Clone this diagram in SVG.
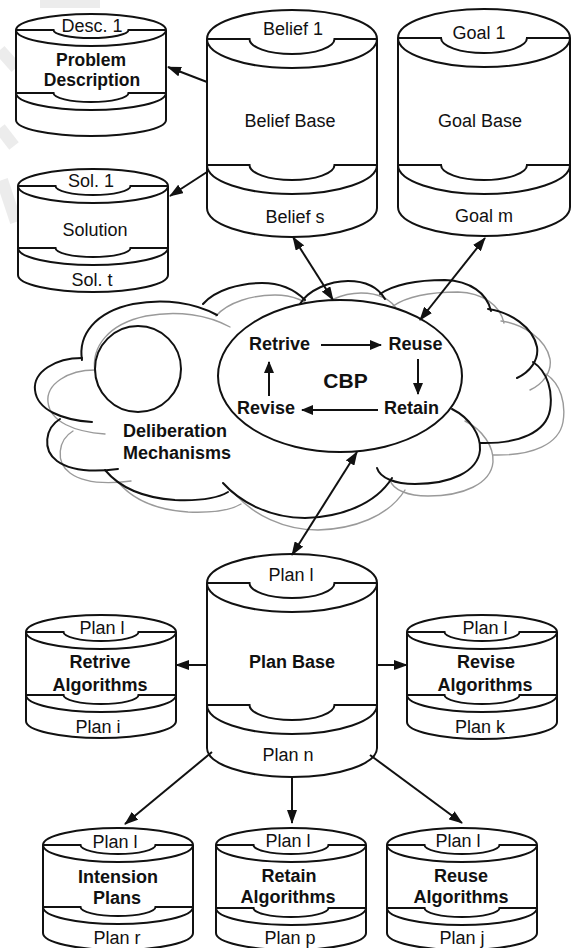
<svg xmlns="http://www.w3.org/2000/svg" width="573" height="948" viewBox="0 0 573 948">
  <defs>
    <style>
      .o { fill: none; stroke: #111; stroke-width: 2; }
      .w { fill: #fff; stroke: #111; stroke-width: 2; }
      .cl { fill: none; stroke: #111; stroke-width: 2; stroke-linecap: round; }
      .cg { fill: none; stroke: #9a9a9a; stroke-width: 1.4; stroke-linecap: round; }
      .ar { fill: none; stroke: #111; stroke-width: 2; }
      .wm { fill: none; stroke: #ececec; stroke-width: 12; stroke-linecap: butt; }
      text { font-family: "Liberation Sans", Arial, Helvetica, sans-serif; font-size: 18px; fill: #111; text-anchor: middle; }
      .b { font-weight: bold; }
    </style>
    <marker id="ah" viewBox="0 0 14 10" refX="13" refY="5" markerWidth="14" markerHeight="10" markerUnits="userSpaceOnUse" orient="auto-start-reverse">
      <path d="M0,0 L14,5 L0,10 Z" fill="#111"/>
    </marker>
    <marker id="ahs" viewBox="0 0 12 10" refX="11" refY="5" markerWidth="12" markerHeight="10" markerUnits="userSpaceOnUse" orient="auto-start-reverse">
      <path d="M0,0 L12,5 L0,10 Z" fill="#111"/>
    </marker>
    <!-- outline lobes of the deliberation cloud -->
    <g id="lobes">
      <path d="M82,360 C78,335 95,312 133,304 C165,298 195,303 217,315"/>
      <path d="M203,304 C215,290 240,283 262,283 C280,283 295,290 305,300"/>
      <path d="M300,304 C308,290 330,281 348,281 C365,281 378,287 385,299"/>
      <path d="M380,294 C395,284 420,280 445,280 C470,281 487,293 491,311"/>
      <path d="M488,309 C510,312 533,327 537,347 C539,360 530,372 517,378"/>
      <path d="M533,362 C548,372 553,392 550,410 C546,432 520,444 480,443"/>
      <path d="M452,409 C470,418 481,435 480,450 C478,472 450,484 415,484 C395,484 380,478 377,468"/>
      <path d="M392,478 C375,505 340,517 305,518 C270,518 240,502 223,483"/>
      <path d="M105,470 C120,488 145,498 175,500 C200,501 218,498 228,492"/>
      <path d="M60,419 C45,428 42,450 57,461 C72,472 95,472 118,469"/>
      <path d="M82,358 C55,358 33,372 35,390 C37,410 62,420 92,422"/>
    </g>
  </defs>

  <rect width="573" height="948" fill="#fff"/>

  <!-- faint background bands in the upper left -->
  <g id="bands">
    <path class="wm" d="M40,2 L100,2"/>
    <path class="wm" d="M0,50 L16,68"/>
    <path class="wm" d="M0,128 L14,146"/>
    <path class="wm" d="M2,180 L16,222"/>
    <path class="wm" d="M22,238 L44,262"/>
  </g>

  <!-- Problem Description -->
  <g id="problem-description">
    <path class="w" d="M16,30 V120 A75,16 0 0 0 166,120 V30"/>
    <ellipse class="w" cx="91" cy="30" rx="75" ry="16"/>
    <path class="o" d="M16,30 H53.5 A37.5,8 0 0 0 128.5,30 H166"/>
    <path class="o" d="M16,93 H53.5 A37.5,9 0 0 0 128.5,93 H166 M16,93 A75,17 0 0 0 166,93"/>
    <text x="92" y="32">Desc. 1</text>
    <text class="b" x="91" y="66" style="font-size:17.5px">Problem</text>
    <text class="b" x="92" y="86" style="font-size:17.5px">Description</text>
  </g>

  <!-- Solution -->
  <g id="solution">
    <path class="w" d="M18,186 V275 A75,17 0 0 0 168,275 V186"/>
    <ellipse class="w" cx="93" cy="186" rx="75" ry="17"/>
    <path class="o" d="M18,186 H55.5 A37.5,9 0 0 0 130.5,186 H168"/>
    <path class="o" d="M18,248 H55.5 A37.5,9 0 0 0 130.5,248 H168 M18,248 A75,17 0 0 0 168,248"/>
    <text x="91" y="187">Sol. 1</text>
    <text x="95" y="236">Solution</text>
    <text x="92" y="286">Sol. t</text>
  </g>

  <!-- Belief Base -->
  <g id="belief-base">
    <path class="w" d="M207,39 V208 A85,29 0 0 0 377,208 V39"/>
    <ellipse class="w" cx="292" cy="39" rx="85" ry="29"/>
    <path class="o" d="M207,39 H249.5 A42.5,15 0 0 0 334.5,39 H377"/>
    <path class="o" d="M207,165 H249.5 A42.5,15 0 0 0 334.5,165 H377 M207,165 A85,29 0 0 0 377,165"/>
    <text x="293" y="35">Belief 1</text>
    <text x="290" y="127">Belief Base</text>
    <text x="295" y="223">Belief s</text>
  </g>

  <!-- Goal Base -->
  <g id="goal-base">
    <path class="w" d="M398,38 V207 A86,29 0 0 0 570,207 V38"/>
    <ellipse class="w" cx="484" cy="38" rx="86" ry="29"/>
    <path class="o" d="M398,38 H441 A43,15 0 0 0 527,38 H570"/>
    <path class="o" d="M398,165 H441 A43,15 0 0 0 527,165 H570 M398,165 A86,29 0 0 0 570,165"/>
    <text x="479" y="39">Goal 1</text>
    <text x="480" y="127">Goal Base</text>
    <text x="484" y="222">Goal m</text>
  </g>

  <!-- Deliberation cloud with CBP cycle -->
  <g id="deliberation">
    <use href="#lobes" class="cg" transform="translate(13,12)"/>
    <use href="#lobes" class="cl"/>
    <circle class="w" cx="138" cy="369" r="43"/>
    <text class="b" x="175" y="437">Deliberation</text>
    <text class="b" x="177" y="459">Mechanisms</text>
  </g>

  <g id="cbp">
    <ellipse class="w" cx="340" cy="376" rx="122" ry="76"/>
    <text class="b" x="345.5" y="388" style="font-size:21px">CBP</text>
    <text class="b" x="279.5" y="350">Retrive</text>
    <text class="b" x="415.5" y="350">Reuse</text>
    <text class="b" x="411.5" y="414">Retain</text>
    <text class="b" x="266" y="414">Revise</text>
    <path class="ar" d="M321,345 H381" marker-end="url(#ahs)"/>
    <path class="ar" d="M418,359 V394" marker-end="url(#ahs)"/>
    <path class="ar" d="M378,410 H302" marker-end="url(#ahs)"/>
    <path class="ar" d="M269,396 V362" marker-end="url(#ahs)"/>
  </g>

  <!-- Plan Base -->
  <g id="plan-base">
    <path class="w" d="M207,583 V748 A85,29 0 0 0 377,748 V583"/>
    <ellipse class="w" cx="292" cy="583" rx="85" ry="29"/>
    <path class="o" d="M207,583 H249.5 A42.5,15 0 0 0 334.5,583 H377"/>
    <path class="o" d="M207,705 H249.5 A42.5,15 0 0 0 334.5,705 H377 M207,705 A85,29 0 0 0 377,705"/>
    <text x="291" y="581">Plan l</text>
    <text class="b" x="292" y="668">Plan Base</text>
    <text x="288" y="761">Plan n</text>
  </g>

  <!-- Retrive Algorithms -->
  <g id="retrive-algorithms">
    <path class="w" d="M26,632 V721 A75,17 0 0 0 176,721 V632"/>
    <ellipse class="w" cx="101" cy="632" rx="75" ry="17"/>
    <path class="o" d="M26,632 H63.5 A37.5,9 0 0 0 138.5,632 H176"/>
    <path class="o" d="M26,695 H63.5 A37.5,9 0 0 0 138.5,695 H176 M26,695 A75,17 0 0 0 176,695"/>
    <text x="102" y="634">Plan l</text>
    <text class="b" x="100" y="668">Retrive</text>
    <text class="b" x="100" y="691">Algorithms</text>
    <text x="98" y="733">Plan i</text>
  </g>

  <!-- Revise Algorithms -->
  <g id="revise-algorithms">
    <path class="w" d="M407,632 V722 A75,17 0 0 0 557,722 V632"/>
    <ellipse class="w" cx="482" cy="632" rx="75" ry="17"/>
    <path class="o" d="M407,632 H444.5 A37.5,9 0 0 0 519.5,632 H557"/>
    <path class="o" d="M407,695 H444.5 A37.5,9 0 0 0 519.5,695 H557 M407,695 A75,17 0 0 0 557,695"/>
    <text x="485" y="634">Plan l</text>
    <text class="b" x="486" y="668">Revise</text>
    <text class="b" x="485" y="691">Algorithms</text>
    <text x="480" y="733">Plan k</text>
  </g>

  <!-- Intension Plans -->
  <g id="intension-plans">
    <path class="w" d="M43,845 V933 A75,17 0 0 0 193,933 V845"/>
    <ellipse class="w" cx="118" cy="845" rx="75" ry="17"/>
    <path class="o" d="M43,845 H80.5 A37.5,9 0 0 0 155.5,845 H193"/>
    <path class="o" d="M43,907 H80.5 A37.5,9 0 0 0 155.5,907 H193 M43,907 A75,17 0 0 0 193,907"/>
    <text x="115" y="848">Plan l</text>
    <text class="b" x="118" y="883">Intension</text>
    <text class="b" x="117" y="904">Plans</text>
    <text x="117" y="944">Plan r</text>
  </g>

  <!-- Retain Algorithms -->
  <g id="retain-algorithms">
    <path class="w" d="M216,845 V933 A75,17 0 0 0 366,933 V845"/>
    <ellipse class="w" cx="291" cy="845" rx="75" ry="17"/>
    <path class="o" d="M216,845 H253.5 A37.5,9 0 0 0 328.5,845 H366"/>
    <path class="o" d="M216,908 H253.5 A37.5,9 0 0 0 328.5,908 H366 M216,908 A75,17 0 0 0 366,908"/>
    <text x="288" y="847">Plan l</text>
    <text class="b" x="289" y="882">Retain</text>
    <text class="b" x="288" y="903">Algorithms</text>
    <text x="290" y="944">Plan p</text>
  </g>

  <!-- Reuse Algorithms -->
  <g id="reuse-algorithms">
    <path class="w" d="M387,845 V933 A75,17 0 0 0 537,933 V845"/>
    <ellipse class="w" cx="462" cy="845" rx="75" ry="17"/>
    <path class="o" d="M387,845 H424.5 A37.5,9 0 0 0 499.5,845 H537"/>
    <path class="o" d="M387,908 H424.5 A37.5,9 0 0 0 499.5,908 H537 M387,908 A75,17 0 0 0 537,908"/>
    <text x="458" y="847">Plan l</text>
    <text class="b" x="461" y="882">Reuse</text>
    <text class="b" x="461" y="903">Algorithms</text>
    <text x="462" y="944">Plan j</text>
  </g>

  <!-- Connectors -->
  <g id="connectors">
    <path class="ar" d="M207,82 L168,67" marker-end="url(#ah)"/>
    <path class="ar" d="M207,172 L170,196" marker-end="url(#ah)"/>
    <path class="ar" d="M293,237 L333,300" marker-start="url(#ah)" marker-end="url(#ah)"/>
    <path class="ar" d="M485,238 L420,320" marker-start="url(#ah)" marker-end="url(#ah)"/>
    <path class="ar" d="M357,452 L292,555" marker-start="url(#ah)" marker-end="url(#ah)"/>
    <path class="ar" d="M207,665 H176" marker-end="url(#ah)"/>
    <path class="ar" d="M377,665 H407" marker-end="url(#ah)"/>
    <path class="ar" d="M212,752 L125,824" marker-end="url(#ah)"/>
    <path class="ar" d="M292,778 V823" marker-end="url(#ah)"/>
    <path class="ar" d="M370,755 L462,823" marker-end="url(#ah)"/>
  </g>
</svg>
